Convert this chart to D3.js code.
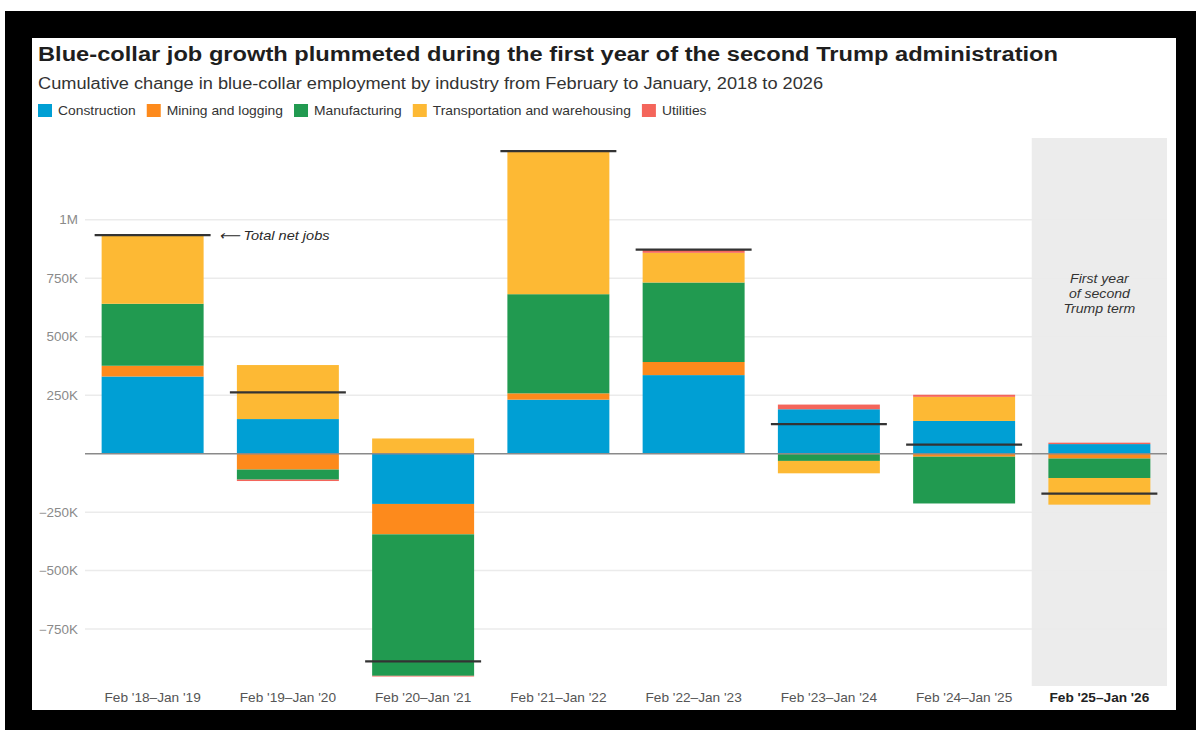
<!DOCTYPE html>
<html>
<head>
<meta charset="utf-8">
<script src="https://cdn.jsdelivr.net/npm/d3@7"></script>
<style>
  html, body { margin: 0; padding: 0; background: #fff; }
  svg { display: block; }
  text { font-family: "Liberation Sans", Arial, sans-serif; }
</style>
</head>
<body>
<svg id="chart" width="1196" height="730"></svg>
<script>
// ---- data (thousands of jobs) ----
const periods = ["Feb '18–Jan '19", "Feb '19–Jan '20", "Feb '20–Jan '21", "Feb '21–Jan '22",
                 "Feb '22–Jan '23", "Feb '23–Jan '24", "Feb '24–Jan '25", "Feb '25–Jan '26"];
const seriesNames = ["Construction", "Mining and logging", "Manufacturing", "Transportation and warehousing", "Utilities"];
const construction   = [330, 148, -215, 231, 336, 190, 140, 41];
const mining         = [46, -68, -130, 27, 56, -2, -13, -21];
const manufacturing  = [265, -43, -605, 424, 340, -29, -200, -83];
const transportation = [291, 231, 65, 608, 127, -53, 103, -114];
const utilities      = [3, -6, -3, 4, 14, 20, 9, 6];
const yTicks = [-750, -500, -250, 250, 500, 750, 1000];
const yTickLabels = ["−750K", "−500K", "−250K", "250K", "500K", "750K", "1M"];
const colors = ["#009fd4", "#fd8a1c", "#219a50", "#fdb934", "#f4655b"];

const values = [construction, mining, manufacturing, transportation, utilities];

const svg = d3.select("#chart");
const W = 1196, H = 730;
const SX = 1.1; // horizontal stretch of the source image

// text helper with horizontal stretch
function txt(g, x, y, str, o = {}) {
  return g.append("text")
    .attr("transform", `translate(${x},${y}) scale(${o.sx || SX},1)`)
    .attr("text-anchor", o.anchor || "start")
    .attr("font-size", o.size || 12)
    .attr("font-weight", o.weight || 400)
    .attr("font-style", o.style || "normal")
    .attr("fill", o.fill || "#333")
    .text(str);
}

// outer frame
svg.append("rect").attr("x", 0).attr("y", 0).attr("width", W).attr("height", H).attr("fill", "#fff");
svg.append("rect").attr("x", 5).attr("y", 11).attr("width", W - 5).attr("height", H - 11).attr("fill", "#000");
svg.append("rect").attr("x", 32).attr("y", 38).attr("width", 1144).attr("height", 672).attr("fill", "#fff");

// title / subtitle
svg.append("text").attr("x", 38).attr("y", 61).attr("font-size", 20).attr("font-weight", 700)
  .attr("fill", "#1e1e1e").attr("textLength", 1020).attr("lengthAdjust", "spacingAndGlyphs")
  .text("Blue-collar job growth plummeted during the first year of the second Trump administration");
svg.append("text").attr("x", 38).attr("y", 89).attr("font-size", 16).attr("fill", "#333")
  .attr("textLength", 785).attr("lengthAdjust", "spacingAndGlyphs")
  .text("Cumulative change in blue-collar employment by industry from February to January, 2018 to 2026");

// legend
const legend = svg.append("g");
let lx = 38;
const LSX = 1.1;
seriesNames.forEach((name, i) => {
  legend.append("rect").attr("x", lx).attr("y", 104).attr("width", 14).attr("height", 13).attr("fill", colors[i]);
  const t = txt(legend, lx + 20, 115, name, { size: 12.6, fill: "#333", sx: LSX });
  lx += 20 + t.node().getBBox().width * LSX + 11;
});

// scales
const x = d3.scaleBand().domain(periods).range([85, 1167]).paddingInner(0.246).paddingOuter(0.123);
const y = d3.scaleLinear().domain([-1000, 1350]).range([687.5, 138]);

// shaded last period
const last = periods[periods.length - 1];
svg.append("rect")
  .attr("x", x(last) - x.step() * x.paddingInner() / 2)
  .attr("width", x.step())
  .attr("y", y(1350)).attr("height", y(-1000) - y(1350) - 1.5)
  .attr("fill", "#ececec");

// gridlines
svg.append("g").selectAll("line").data(yTicks).join("line")
  .attr("x1", 85).attr("x2", 1167)
  .attr("y1", d => y(d)).attr("y2", d => y(d))
  .attr("stroke", "#ebebeb").attr("stroke-width", 1.5);

// y axis labels
const yg = svg.append("g");
yTicks.forEach((d, i) => txt(yg, 78, y(d) + 4.5, yTickLabels[i], { anchor: "end", size: 12, fill: "#8a8a8a", sx: 1.12 }));

// stacked bars (diverging)
const barsG = svg.append("g");
periods.forEach((p, pi) => {
  let pos = 0, neg = 0;
  values.forEach((arr, si) => {
    const v = arr[pi];
    let y0, y1;
    if (v >= 0) { y0 = pos; y1 = pos + v; pos = y1; }
    else { y0 = neg + v; y1 = neg; neg = y0; }
    barsG.append("rect")
      .attr("x", x(p)).attr("width", x.bandwidth())
      .attr("y", y(y1)).attr("height", Math.max(0, y(y0) - y(y1)))
      .attr("fill", colors[si]);
  });
});

// zero line
svg.append("line").attr("x1", 85).attr("x2", 1167).attr("y1", y(0)).attr("y2", y(0))
  .attr("stroke", "#8a8a8a").attr("stroke-width", 1.5);

// totals
const totals = periods.map((p, pi) => d3.sum(values, arr => arr[pi]));
svg.append("g").selectAll("line").data(periods).join("line")
  .attr("x1", d => x(d) - 7).attr("x2", d => x(d) + x.bandwidth() + 7)
  .attr("y1", (d, i) => y(totals[i])).attr("y2", (d, i) => y(totals[i]))
  .attr("stroke", "#333").attr("stroke-width", 2.2);

// total annotation
txt(svg, x(periods[0]) + x.bandwidth() + 15, y(totals[0]) + 5, "⟵ Total net jobs",
  { size: 13.5, style: "italic", fill: "#2a2a2a", sx: 1.08 });

// x axis labels
const xg = svg.append("g");
periods.forEach((d, i) => {
  const isLast = i === periods.length - 1;
  txt(xg, x(d) + x.bandwidth() / 2, 702, d, {
    anchor: "middle", size: 12.2, weight: isLast ? 700 : 400,
    fill: isLast ? "#222" : "#555", sx: 1.12
  });
});

// shaded annotation
const ann = ["First year", "of second", "Trump term"];
const ag = svg.append("g");
ann.forEach((d, i) => txt(ag, x(last) + x.bandwidth() / 2, 283 + i * 15, d,
  { anchor: "middle", size: 12.8, style: "italic", fill: "#333", sx: 1.1 }));
</script>
</body>
</html>
